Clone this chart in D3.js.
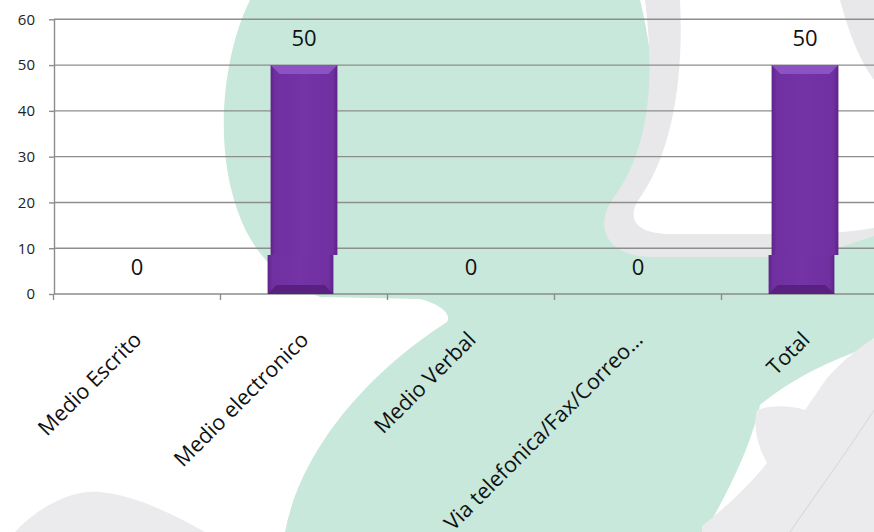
<!DOCTYPE html>
<html><head><meta charset="utf-8">
<script src="https://cdn.jsdelivr.net/npm/d3@7"></script>
<style>body{margin:0;background:#fff}svg{display:block}</style>
</head><body><svg id="chart" width="874" height="532"></svg>
<script>
const categories = ["Medio Escrito", "Medio electronico", "Medio Verbal", "Via telefonica/Fax/Correo…", "Total"];
const values = [0, 50, 0, 0, 50];
const yTicks = [0, 10, 20, 30, 40, 50, 60];

const svg = d3.select("#chart");
const W = 874, H = 532;
const FONT = "'Open Sans', 'Liberation Sans', sans-serif";

// ---- decorative watermark background ----
const bg = svg.append("g");
bg.append("rect").attr("width", W).attr("height", H).attr("fill", "#ffffff");
bg.append("path").attr("fill", "#ebebed")
  .attr("d", "M15,532 C45,500 78,490 100,492 C135,495 175,515 205,532 Z");
bg.append("path").attr("fill", "#c8e8db")
  .attr("d", "M250,0 C225,50 212,140 238,212 C252,252 280,282 320,297 L420,299 C440,304 452,314 447,322 C395,355 305,430 285,532 L705,532 C735,480 752,440 760,405 C790,380 830,360 874,345 L874,225 L660,225 C655,160 660,80 640,0 Z");
// gray ring with white interior (upper right)
bg.append("path").attr("fill", "#e8e8ea")
  .attr("d", "M645,0 C655,80 650,150 612,200 C592,232 612,257 652,257 L800,257 C830,252 855,242 874,236 L874,0 Z");
bg.append("path").attr("fill", "#ffffff")
  .attr("d", "M680,0 L840,0 C848,30 858,58 874,80 L874,228 C850,232 820,234 790,234 L665,234 C632,232 626,215 642,195 C672,150 684,80 680,0 Z");
// lower right gray
bg.append("path").attr("fill", "#ebebed")
  .attr("d", "M874,338 C852,352 836,368 827,378 L805,410 C790,405 770,405 757,410 C752,430 760,450 767,463 C745,490 722,510 702,526 L702,532 L874,532 Z");
bg.append("path").attr("fill", "none").attr("stroke", "#d6dcd9").attr("stroke-width", 1.2)
  .attr("d", "M874,410 C845,455 815,495 790,532");

// ---- scales ----
const x = d3.scaleBand().domain(categories).range([53.5, 888.5]).padding(0);
const y = d3.scaleLinear().domain([0, 60]).range([294, 19.3]);
const gridColor = "#8d8d8d";
const axisLeftX = 54;

// grid lines
svg.append("g").selectAll("line").data(yTicks.filter(t => t > 0)).join("line")
  .attr("x1", axisLeftX).attr("x2", W)
  .attr("y1", d => y(d)).attr("y2", d => y(d))
  .attr("stroke", gridColor).attr("stroke-width", 1.4);

// y axis
const yAxis = svg.append("g").attr("transform", `translate(${axisLeftX},0)`)
  .call(d3.axisLeft(y).tickValues(yTicks).tickSize(5).tickSizeOuter(0).tickPadding(14));
yAxis.select(".domain").attr("stroke", gridColor).attr("stroke-width", 1.4);
yAxis.selectAll(".tick line").attr("stroke", gridColor).attr("stroke-width", 1.4);
yAxis.selectAll("text").attr("font-family", FONT).attr("font-size", 15).attr("fill", "#222");

// x axis baseline & ticks at category boundaries
svg.append("line").attr("x1", axisLeftX).attr("x2", W).attr("y1", y(0)).attr("y2", y(0))
  .attr("stroke", gridColor).attr("stroke-width", 1.4);
svg.append("g").selectAll("line").data(categories).join("line")
  .attr("x1", d => x(d)).attr("x2", d => x(d))
  .attr("y1", y(0)).attr("y2", y(0) + 6)
  .attr("stroke", gridColor).attr("stroke-width", 1.4);

// ---- bars with bevel ----
const defs = svg.append("defs");
const g1 = defs.append("linearGradient").attr("id", "barBody").attr("x1", "0").attr("x2", "1").attr("y1", "0").attr("y2", "0");
[[0, "#5f2389"], [0.07, "#7030a0"], [0.5, "#7433a6"], [0.93, "#7030a0"], [1, "#5d2288"]]
  .forEach(([o, c]) => g1.append("stop").attr("offset", o).attr("stop-color", c));

const bw = x.bandwidth() * 0.4;
const bevel = 9;
const lowH = 39;
const data = categories.map((c, i) => ({ c, v: values[i] }));
const bx = d => x(d.c) + (x.bandwidth() - bw) / 2;
const bars = svg.append("g").selectAll("g").data(data.filter(d => d.v > 0)).join("g");
bars.append("rect")
  .attr("x", bx).attr("y", d => y(d.v)).attr("width", bw).attr("height", d => y(0) - y(d.v) - lowH)
  .attr("fill", "url(#barBody)");
bars.append("path").attr("fill", "#8c52c3").attr("d", d => {
  const x0 = bx(d), y0 = y(d.v);
  return `M${x0},${y0} L${x0 + bw},${y0} L${x0 + bw - bevel},${y0 + bevel} L${x0 + bevel},${y0 + bevel} Z`;
});
// lower section (slightly offset, as in the source rendering)
bars.append("rect")
  .attr("x", d => bx(d) - 3).attr("y", y(0) - lowH).attr("width", bw - 1).attr("height", lowH)
  .attr("fill", "url(#barBody)");
bars.append("path").attr("fill", "#58207f").attr("d", d => {
  const x0 = bx(d) - 3, y1 = y(0), w = bw - 1;
  return `M${x0},${y1} L${x0 + w},${y1} L${x0 + w - bevel},${y1 - bevel} L${x0 + bevel},${y1 - bevel} Z`;
});

// ---- data labels ----
svg.append("g").selectAll("text").data(data).join("text")
  .attr("x", d => x(d.c) + x.bandwidth() / 2)
  .attr("y", d => y(d.v) - 19)
  .attr("text-anchor", "middle")
  .attr("font-family", FONT).attr("font-size", 22).attr("fill", "#111")
  .text(d => d.v);

// ---- category labels ----
svg.append("g").selectAll("text").data(categories).join("text")
  .attr("transform", d => `translate(${x(d) + x.bandwidth() / 2 + 6},${y(0) + 47}) rotate(-45)`)
  .attr("text-anchor", "end")
  .attr("font-family", FONT).attr("font-size", 21.5).attr("fill", "#111")
  .text(d => d);
</script></body></html>
